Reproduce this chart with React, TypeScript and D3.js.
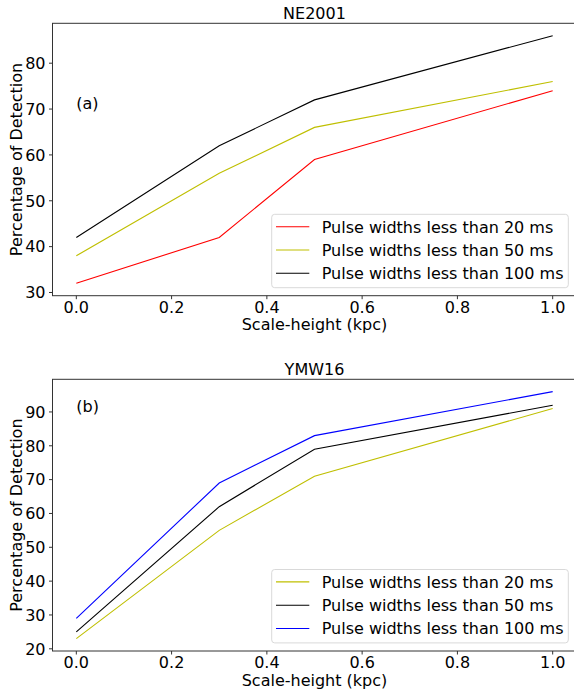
import React from "react";
import * as d3 from "d3";

const xValues = [0.0, 0.3, 0.5, 1.0];
const xTicks = [0.0, 0.2, 0.4, 0.6, 0.8, 1.0];

// Panel (a) NE2001
const neRed = [32, 42, 59, 74];
const neYellow = [38, 56, 66, 76];
const neBlack = [42, 62, 72, 86];
const neYTicks = [30, 40, 50, 60, 70, 80];

// Panel (b) YMW16
const ymwYellow = [23, 55, 71, 91];
const ymwBlack = [25, 62, 79, 92];
const ymwBlue = [29, 69, 83, 96];
const ymwYTicks = [20, 30, 40, 50, 60, 70, 80, 90];

const labels = [
  "Pulse widths less than 20 ms",
  "Pulse widths less than 50 ms",
  "Pulse widths less than 100 ms",
];

const FONT = "DejaVu Sans, sans-serif";
const FS = 16;

type Series = { values: number[]; color: string; label: string };

function Panel(props: {
  top: number;
  bottom: number;
  title: string;
  tag: string;
  tagY: number;
  series: Series[];
  yTicks: number[];
  legendTop: number;
}) {
  const { top, bottom, title, tag, tagY, series, yTicks, legendTop } = props;
  const left = 52.5;
  const right = 576.5;
  const all = series.flatMap((s) => s.values);
  const ymin = d3.min(all) as number;
  const ymax = d3.max(all) as number;
  const ypad = (ymax - ymin) * 0.05;
  const x = d3.scaleLinear().domain([-0.05, 1.05]).range([left, right]);
  const y = d3.scaleLinear().domain([ymin - ypad, ymax + ypad]).range([bottom, top]);
  const line = d3
    .line<number>()
    .x((_, i) => x(xValues[i]))
    .y((d) => y(d));
  const axisColor = "#333";
  const lx0 = 271.7;
  const lx1 = 568.3;
  const rowH = 23.3;
  return (
    <g>
      <text x={(left + right) / 2} y={top - 4.5} textAnchor="middle" fontSize={FS} fontFamily={FONT} fill="#000">
        {title}
      </text>
      {series.map((s, i) => (
        <path key={i} d={line(s.values) || ""} fill="none" stroke={s.color} strokeWidth={1.1} />
      ))}
      <rect x={left} y={top} width={right - left} height={bottom - top} fill="none" stroke={axisColor} strokeWidth={1} />
      {xTicks.map((t) => (
        <g key={t}>
          <line x1={x(t)} x2={x(t)} y1={bottom} y2={bottom + 3.5} stroke={axisColor} />
          <text x={x(t)} y={bottom + 17} textAnchor="middle" fontSize={FS} fontFamily={FONT} fill="#000">
            {t.toFixed(1)}
          </text>
        </g>
      ))}
      {yTicks.map((t) => (
        <g key={t}>
          <line x1={left - 3.5} x2={left} y1={y(t)} y2={y(t)} stroke={axisColor} />
          <text x={left - 7} y={y(t) + 5.8} textAnchor="end" fontSize={FS} fontFamily={FONT} fill="#000">
            {t}
          </text>
        </g>
      ))}
      <text x={(left + right) / 2} y={bottom + 34.5} textAnchor="middle" fontSize={FS} fontFamily={FONT} fill="#000">
        Scale-height (kpc)
      </text>
      <text
        transform={`translate(22,${(top + bottom) / 2}) rotate(-90)`}
        textAnchor="middle"
        fontSize={FS}
        fontFamily={FONT}
        fill="#000"
      >
        Percentage of Detection
      </text>
      <text x={x(0)} y={y(tagY)} fontSize={FS} fontFamily={FONT} fill="#000">
        {tag}
      </text>
      <rect
        x={lx0}
        y={legendTop}
        width={lx1 - lx0}
        height={rowH * 3 + 3.5}
        rx={3}
        fill="#fff"
        fillOpacity={0.8}
        stroke="#d9d9d9"
      />
      {series.map((s, i) => {
        const cy = legendTop + 12.4 + i * rowH;
        return (
          <g key={i}>
            <line x1={276} x2={309.3} y1={cy} y2={cy} stroke={s.color} strokeWidth={1.1} />
            <text x={321.7} y={cy + 5.8} fontSize={FS} fontFamily={FONT} fill="#000">
              {s.label}
            </text>
          </g>
        );
      })}
    </g>
  );
}

export default function App() {
  return (
    <svg
      width={574}
      height={689}
      style={{ position: "absolute", left: 0, top: 0, background: "#fff" }}
    >
      <rect width={574} height={689} fill="#fff" />
      <Panel
        top={23.3}
        bottom={295.7}
        title="NE2001"
        tag="(a)"
        tagY={70}
        yTicks={neYTicks}
        legendTop={214.3}
        series={[
          { values: neRed, color: "#ff0000", label: labels[0] },
          { values: neYellow, color: "#bfbf00", label: labels[1] },
          { values: neBlack, color: "#000000", label: labels[2] },
        ]}
      />
      <Panel
        top={379.3}
        bottom={651}
        title="YMW16"
        tag="(b)"
        tagY={90}
        yTicks={ymwYTicks}
        legendTop={569.5}
        series={[
          { values: ymwYellow, color: "#bfbf00", label: labels[0] },
          { values: ymwBlack, color: "#000000", label: labels[1] },
          { values: ymwBlue, color: "#0000ff", label: labels[2] },
        ]}
      />
    </svg>
  );
}
